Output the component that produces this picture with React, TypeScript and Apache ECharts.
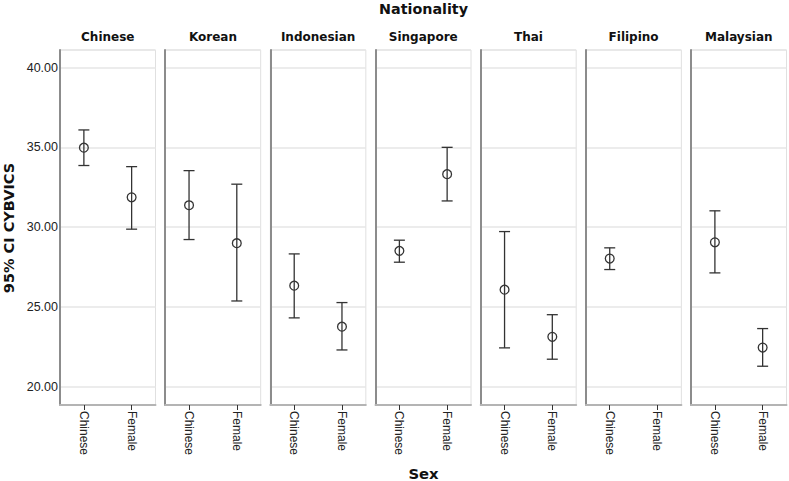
import React, { useEffect, useRef } from "react";
import * as echarts from "echarts";

const nationalities = ["Chinese", "Korean", "Indonesian", "Singapore", "Thai", "Filipino", "Malaysian"];
const sexCategories = ["Chinese", "Female"];

const chineseMean = [34.98, 31.37, 26.33, 28.51, 26.08, 28.03, 29.05];
const chineseLower = [33.86, 29.22, 24.31, 27.8, 22.43, 27.34, 27.13];
const chineseUpper = [36.09, 33.54, 28.32, 29.18, 29.72, 28.7, 31.02];

const femaleMean: (number | null)[] = [31.87, 28.99, 23.76, 33.32, 23.12, null, 22.45];
const femaleLower: (number | null)[] = [29.87, 25.37, 22.3, 31.64, 21.72, null, 21.28];
const femaleUpper: (number | null)[] = [33.79, 32.69, 25.27, 35.0, 24.51, null, 23.64];

const yMin = 18.85;
const yMax = 41.1;

const FONT = "'Liberation Sans', Arial, sans-serif";
const BOLD_FONT = "'DejaVu Sans', Verdana, sans-serif";

export default function App() {
  const ref = useRef<HTMLDivElement>(null);
  useEffect(() => {
    if (!ref.current) return;
    const chart = echarts.init(ref.current, undefined, { renderer: "svg" });

    const left0 = 60;
    const step = 105.17;
    const panelW = 95.5;
    const top = 50;
    const height = 355;

    const grids: any[] = [];
    const xAxes: any[] = [];
    const yAxes: any[] = [];
    const series: any[] = [];
    const graphics: any[] = [];

    nationalities.forEach((nat, i) => {
      const left = left0 + i * step;
      grids.push({
        left,
        top,
        width: panelW,
        height,
        show: true,
        borderColor: "#e0e0e0",
        borderWidth: 1,
        backgroundColor: "#ffffff",
      });
      xAxes.push({
        type: "category",
        gridIndex: i,
        data: sexCategories,
        axisLine: { show: true, lineStyle: { color: "#b4b4b4", width: 2 } },
        axisTick: { show: true, alignWithLabel: true, length: 5, lineStyle: { color: "#333", width: 1 } },
        axisLabel: {
          show: true,
          rotate: -90,
          margin: 6,
          color: "#222",
          fontSize: 12,
          fontFamily: FONT,
        },
        splitLine: { show: false },
      });
      yAxes.push({
        type: "value",
        gridIndex: i,
        min: yMin,
        max: yMax,
        splitNumber: 5,
        axisLine: { show: true, lineStyle: { color: "#8c8c8c", width: 2 } },
        axisTick: { show: false },
        axisLabel: {
          show: i === 0,
          showMinLabel: false,
          showMaxLabel: false,
          margin: 2,
          color: "#222",
          fontSize: 12.5,
          fontFamily: FONT,
          formatter: (v: number) => v.toFixed(2),
        },
        splitLine: { show: true, lineStyle: { color: "#e6e6e6", width: 1.5 } },
      });
      const data: any[] = [[0, chineseMean[i], chineseLower[i], chineseUpper[i]]];
      if (femaleMean[i] != null) {
        data.push([1, femaleMean[i], femaleLower[i], femaleUpper[i]]);
      }
      series.push({
        type: "custom",
        xAxisIndex: i,
        yAxisIndex: i,
        data,
        renderItem: (params: any, api: any) => {
          const x = api.value(0);
          const pm = api.coord([x, api.value(1)]);
          const pl = api.coord([x, api.value(2)]);
          const ph = api.coord([x, api.value(3)]);
          const half = 5.5;
          const st = { stroke: "#333", lineWidth: 1.3, fill: "none" };
          return {
            type: "group",
            children: [
              { type: "line", shape: { x1: pl[0], y1: pl[1], x2: ph[0], y2: ph[1] }, style: st },
              { type: "line", shape: { x1: pl[0] - half, y1: pl[1], x2: pl[0] + half, y2: pl[1] }, style: st },
              { type: "line", shape: { x1: ph[0] - half, y1: ph[1], x2: ph[0] + half, y2: ph[1] }, style: st },
              { type: "circle", shape: { cx: pm[0], cy: pm[1], r: 4.4 }, style: { stroke: "#333", lineWidth: 1.3, fill: "none" } },
            ],
          };
        },
      });
      graphics.push({
        type: "text",
        x: left + panelW / 2,
        y: 37,
        style: {
          text: nat,
          textAlign: "center",
          textVerticalAlign: "middle",
          font: `bold 12px ${BOLD_FONT}`,
          fill: "#111",
        },
      });
    });

    graphics.push({
      type: "text",
      x: 423.5,
      y: 8.5,
      style: { text: "Nationality", textAlign: "center", textVerticalAlign: "middle", font: `bold 14.3px ${BOLD_FONT}`, fill: "#111" },
    });
    graphics.push({
      type: "text",
      x: 423.5,
      y: 473,
      style: { text: "Sex", textAlign: "center", textVerticalAlign: "middle", font: `bold 14.8px ${BOLD_FONT}`, fill: "#111" },
    });
    graphics.push({
      type: "text",
      x: 8.5,
      y: 228,
      rotation: Math.PI / 2,
      style: { text: "95% CI CYBVICS", textAlign: "center", textVerticalAlign: "middle", font: `bold 14.5px ${BOLD_FONT}`, fill: "#111" },
    });

    chart.setOption({
      animation: false,
      backgroundColor: "#ffffff",
      grid: grids,
      xAxis: xAxes,
      yAxis: yAxes,
      series,
      graphic: graphics,
    });
    return () => chart.dispose();
  }, []);
  return (
    <div
      ref={ref}
      style={{ position: "fixed", left: 0, top: 0, width: 789, height: 481 }}
    />
  );
}
